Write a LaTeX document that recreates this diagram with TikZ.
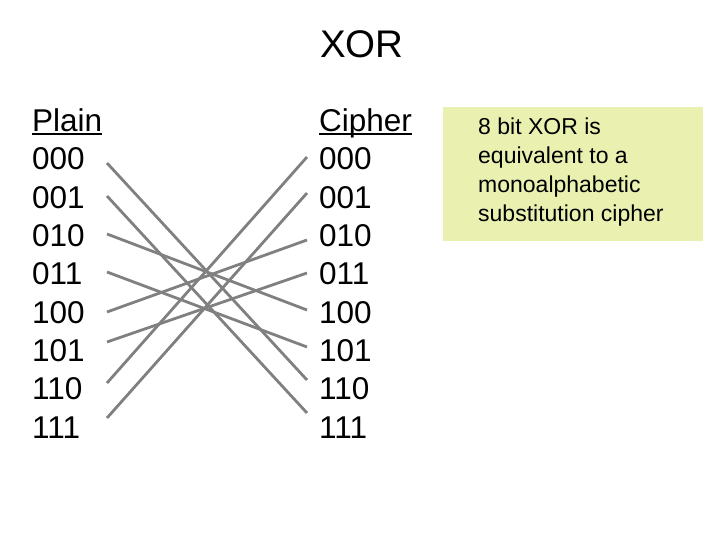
\documentclass[tikz,border=0pt]{standalone}
\usepackage{fontspec}
\setmainfont{Liberation Sans}
\definecolor{notefill}{RGB}{234,241,176}
\definecolor{linegray}{RGB}{128,128,128}
\tikzset{
  big/.style={font=\fontsize{31.5}{34}\selectfont, inner sep=0pt, anchor=base west},
  wire/.style={draw=linegray, line width=2.8pt},
  uline/.style={draw=black, line width=2pt},
  note/.style={fill=notefill, draw=none, minimum width=260pt, minimum height=134pt, anchor=north west, inner sep=0pt},
  notetext/.style={font=\fontsize{23}{29}\selectfont, align=left, anchor=base west, inner sep=0pt}
}
\begin{document}
\begin{tikzpicture}[x=1pt,y=1pt]
\useasboundingbox (0,0) rectangle (720,540);
% title
\node[font=\fontsize{38.5}{40}\selectfont, inner sep=0pt, anchor=base] (title) at (362,482) {XOR};
% columns
\node[big] (plain) at (32,408.3) {Plain};
\node[big] (cipher) at (319,408.3) {Cipher};
\draw[uline] ([yshift=-2.6pt]plain.base west) -- ([yshift=-2.6pt]plain.base east);
\draw[uline] ([yshift=-2.6pt]cipher.base west) -- ([yshift=-2.6pt]cipher.base east);
\foreach \i/\t in {0/000,1/001,2/010,3/011,4/100,5/101,6/110,7/111}{
  \node[big] (l\i) at (32,{408.3-38.3*(\i+1)}) {\t};
  \node[big] (r\i) at (319,{408.3-38.3*(\i+1)}) {\t};
}
% wire endpoints
\foreach \i/\y in {0/377,1/344,2/306,3/268,4/228,5/198,6/157,7/122}{
  \coordinate (a\i) at (107,\y);
}
\foreach \i/\y in {0/383,1/347,2/300,3/267,4/230,5/193,6/160,7/127}{
  \coordinate (b\i) at (307,\y);
}
\draw[wire] (a0) -- (b6);
\draw[wire] (a1) -- (b7);
\draw[wire] (a2) -- (b4);
\draw[wire] (a3) -- (b5);
\draw[wire] (a4) -- (b2);
\draw[wire] (a5) -- (b3);
\draw[wire] (a6) -- (b0);
\draw[wire] (a7) -- (b1);
% note
\node[note] (notebox) at (443,433) {};
\node[notetext] (notetxt) at (478,318) {8 bit XOR is\\equivalent to a\\monoalphabetic\\substitution cipher};
\end{tikzpicture}
\end{document}
